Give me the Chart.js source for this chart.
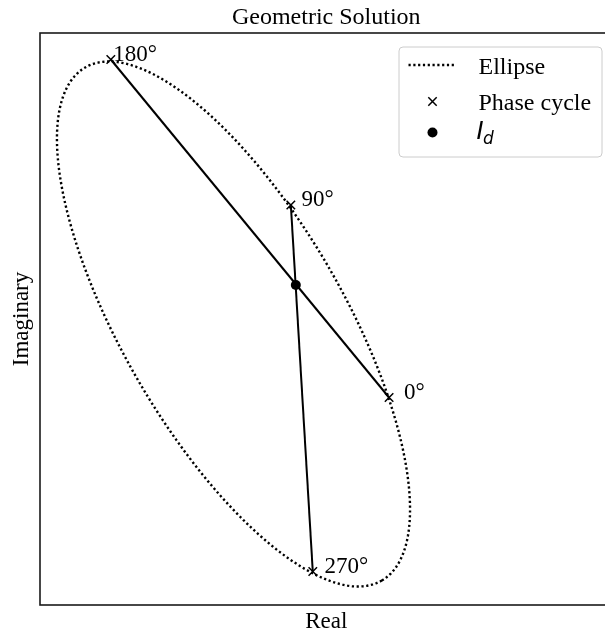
<!DOCTYPE html>
<html>
<head>
<meta charset="utf-8">
<script src="https://cdn.jsdelivr.net/npm/chart.js@4.4.1/dist/chart.umd.min.js"></script>
<style>
  html, body { margin: 0; padding: 0; background: #fff; overflow: hidden; }
  #wrap { width: 605px; height: 638px; overflow: hidden; }
  canvas { display: block; }
</style>
</head>
<body>
<div id="wrap"><canvas id="chart" width="620" height="638"></canvas></div>
<script>
// Phase-cycled signal samples (real, imaginary) and their labels
const phaseLabels = ['0°', '90°', '180°', '270°'];
const phaseReal = [0.335, 0.2365, 0.056, 0.2585];
const phaseImag = [-0.0775, 0.115, 0.2605, -0.2515];

// Geometric solution: where the 0°–180° and 90°–270° chords cross
const idReal = [0.2415];
const idImag = [0.035];

// Signal ellipse: centre, semi-axes and tilt of the major axis
const ellipseCenter = [0.179, -0.004];
const ellipseAxes = [0.2965, 0.111];
const ellipseTiltDeg = -59.9;

// Axis ranges
const realRange = [-0.015, 0.559];
const imagRange = [-0.285, 0.287];

// Legend entries
const legendLabels = ['Ellipse', 'Phase cycle', 'I_d'];

const SERIF = '"Liberation Serif", "Times New Roman", serif';
const labelShift = 1.045;

function ellipsePoints(n) {
  const t = ellipseTiltDeg * Math.PI / 180;
  const pts = [];
  for (let k = 0; k <= n; k++) {
    const s = 2 * Math.PI * k / n;
    const u = ellipseAxes[0] * Math.cos(s);
    const v = ellipseAxes[1] * Math.sin(s);
    pts.push({
      x: ellipseCenter[0] + u * Math.cos(t) - v * Math.sin(t),
      y: ellipseCenter[1] + u * Math.sin(t) + v * Math.cos(t)
    });
  }
  return pts;
}

const phasePts = phaseReal.map((r, i) => ({ x: r, y: phaseImag[i] }));
const idPts = idReal.map((r, i) => ({ x: r, y: idImag[i] }));

// Axes frame on all four sides
const framePlugin = {
  id: 'frame',
  afterDatasetsDraw(chart) {
    const { ctx, chartArea: a } = chart;
    ctx.save();
    ctx.strokeStyle = '#1a1a1a';
    ctx.lineWidth = 1.6;
    ctx.strokeRect(a.left, a.top, a.right - a.left, a.bottom - a.top);
    ctx.restore();
  }
};

// Phase labels next to each cross
const phaseTextPlugin = {
  id: 'phaseText',
  afterDatasetsDraw(chart) {
    const { ctx, scales: { x, y } } = chart;
    ctx.save();
    ctx.font = '23px ' + SERIF;
    ctx.fillStyle = '#000';
    ctx.textAlign = 'left';
    ctx.textBaseline = 'alphabetic';
    phaseLabels.forEach((t, i) => {
      ctx.fillText(t, x.getPixelForValue(phaseReal[i] * labelShift),
                   y.getPixelForValue(phaseImag[i]) + 1);
    });
    ctx.restore();
  }
};

// Boxed legend in the upper-right corner of the axes
const boxLegendPlugin = {
  id: 'boxLegend',
  afterDraw(chart) {
    const { ctx, chartArea: a } = chart;
    const w = 203, h = 110;
    const bx = a.right - 11 - w, by = a.top + 13.5;
    ctx.save();
    ctx.beginPath();
    ctx.roundRect(bx + 0.5, by + 0.5, w, h, 4);
    ctx.fillStyle = 'rgba(255,255,255,0.8)';
    ctx.fill();
    ctx.strokeStyle = '#cccccc';
    ctx.lineWidth = 1;
    ctx.stroke();

    const hx0 = bx + 10, hx1 = bx + 58, hc = (hx0 + hx1) / 2;
    const tx = bx + 80;
    // row 1: dotted line
    const ds = chart.data.datasets;
    ctx.beginPath();
    ctx.setLineDash(ds[0].borderDash);
    ctx.lineWidth = ds[0].borderWidth;
    ctx.strokeStyle = '#000';
    ctx.moveTo(hx0, by + 18.5);
    ctx.lineTo(hx1, by + 18.5);
    ctx.stroke();
    ctx.setLineDash([]);
    // row 2: cross marker
    const r2 = by + 55;
    const d = 4.2;
    ctx.lineWidth = 1.5;
    ctx.beginPath();
    ctx.moveTo(hc - d, r2 - d); ctx.lineTo(hc + d, r2 + d);
    ctx.moveTo(hc - d, r2 + d); ctx.lineTo(hc + d, r2 - d);
    ctx.stroke();
    // row 3: filled dot
    const r3 = by + 86;
    ctx.beginPath();
    ctx.arc(hc, r3, 5, 0, 2 * Math.PI);
    ctx.fillStyle = '#000';
    ctx.fill();

    ctx.fillStyle = '#000';
    ctx.textBaseline = 'alphabetic';
    ctx.font = '24px ' + SERIF;
    ctx.fillText(legendLabels[0], tx, by + 27);
    ctx.fillText(legendLabels[1], tx, by + 63.5);
    // I with subscript d (italic sans)
    const [main, sub] = legendLabels[2].split('_');
    ctx.font = 'italic 24px "DejaVu Sans"';
    ctx.fillText(main, tx - 2, by + 92);
    const iw = ctx.measureText(main).width;
    ctx.font = 'italic 17px "DejaVu Sans"';
    ctx.fillText(sub, tx - 2 + iw - 0.5, by + 97);
    ctx.restore();
  }
};

function build() {
  new Chart(document.getElementById('chart'), {
    type: 'scatter',
    data: {
      datasets: [
        {
          type: 'line', label: legendLabels[0], data: ellipsePoints(360),
          borderColor: '#000', borderWidth: 2.4, borderDash: [2.2, 2.6],
          borderCapStyle: 'butt', pointRadius: 0, fill: false, tension: 0, order: 4
        },
        {
          type: 'line', label: '0°–180°', data: [phasePts[0], phasePts[2]],
          borderColor: '#000', borderWidth: 2, pointRadius: 0, fill: false, order: 3
        },
        {
          type: 'line', label: '90°–270°', data: [phasePts[1], phasePts[3]],
          borderColor: '#000', borderWidth: 2, pointRadius: 0, fill: false, order: 3
        },
        {
          label: legendLabels[1], data: phasePts, pointStyle: 'crossRot',
          pointRadius: 6, pointBorderWidth: 1.5, borderColor: '#000',
          backgroundColor: '#000', order: 2
        },
        {
          label: legendLabels[2], data: idPts, pointStyle: 'circle',
          pointRadius: 5, pointBorderWidth: 0, borderColor: '#000',
          backgroundColor: '#000', order: 1
        }
      ]
    },
    options: {
      responsive: false,
      devicePixelRatio: 1,
      animation: false,
      layout: { padding: { left: 0, right: 6, top: 0, bottom: 0 } },
      plugins: {
        legend: { display: false },
        tooltip: { enabled: false },
        title: {
          display: true, text: 'Geometric Solution', fullSize: false,
          color: '#000', font: { family: SERIF, size: 24, weight: 'normal', lineHeight: 1.2 },
          padding: { top: 3, bottom: 1.2 }
        }
      },
      scales: {
        x: {
          type: 'linear', min: realRange[0], max: realRange[1],
          ticks: { display: false }, grid: { display: false }, border: { display: false },
          title: {
            display: true, text: 'Real', color: '#000',
            font: { family: SERIF, size: 23, lineHeight: 1.2 },
            padding: { top: 0, bottom: 2.2 }
          },
          afterFit(s) { s.height = 33; }
        },
        y: {
          type: 'linear', min: imagRange[0], max: imagRange[1],
          ticks: { display: false }, grid: { display: false }, border: { display: false },
          title: {
            display: true, text: 'Imaginary', color: '#000',
            font: { family: SERIF, size: 23, lineHeight: 1.2 },
            padding: { top: 8.5, bottom: 0 }
          },
          afterFit(s) { s.width = 40; }
        }
      }
    },
    plugins: [framePlugin, phaseTextPlugin, boxLegendPlugin]
  });
}

Promise.all([
  document.fonts.load('24px "Liberation Serif"'),
  document.fonts.load('italic 24px "DejaVu Sans"')
]).then(build, build);
</script>
</body>
</html>
